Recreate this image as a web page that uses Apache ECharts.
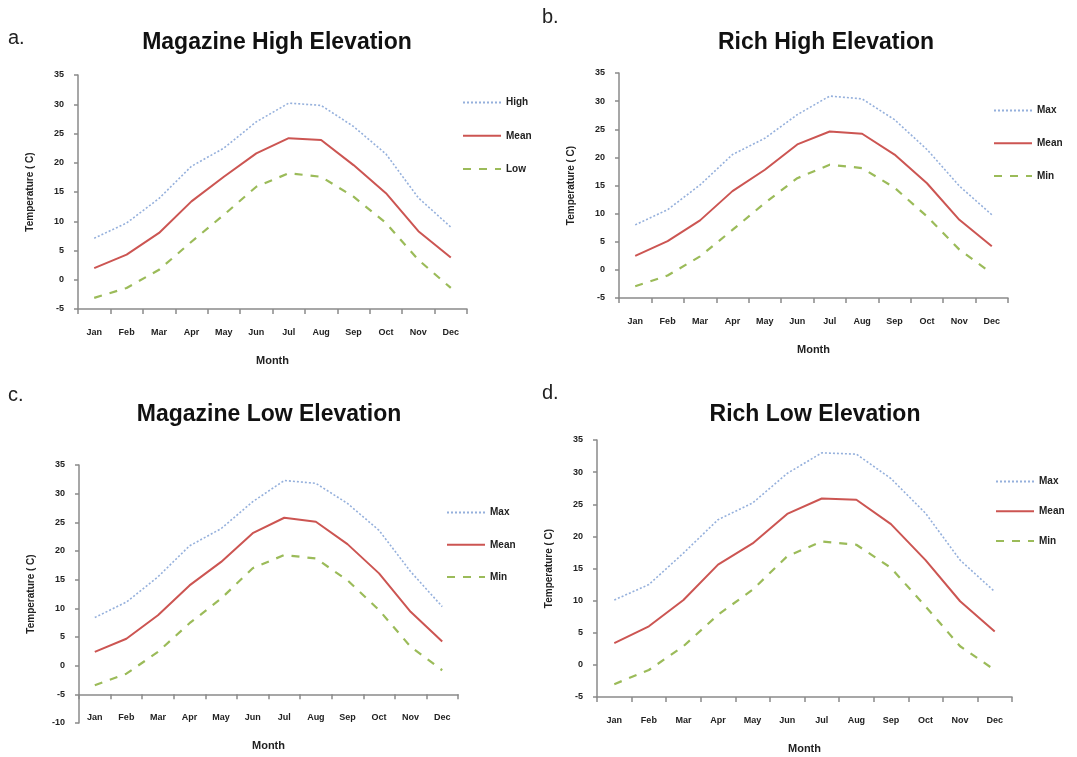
<!DOCTYPE html>
<html>
<head>
<meta charset="utf-8">
<script src="https://cdn.jsdelivr.net/npm/echarts@6/dist/echarts.min.js"></script>
<style>html,body{margin:0;padding:0;background:#fff;}#chart{width:1077px;height:757px;}</style>
</head>
<body>
<div id="chart"></div>
<script>
const months = ['Jan','Feb','Mar','Apr','May','Jun','Jul','Aug','Sep','Oct','Nov','Dec'];

// a. Magazine High Elevation
const magHighHigh = [7.1, 9.7, 13.9, 19.4, 22.5, 27.0, 30.2, 29.8, 26.2, 21.5, 14.0, 9.0];
const magHighMean = [2.0, 4.3, 8.0, 13.4, 17.6, 21.6, 24.2, 23.9, 19.6, 14.8, 8.3, 3.8];
const magHighLow  = [-3.1, -1.4, 1.7, 6.5, 11.1, 15.9, 18.2, 17.6, 14.2, 9.7, 3.4, -1.4];

// b. Rich High Elevation
const richHighMax  = [8.0, 10.7, 15.1, 20.5, 23.4, 27.6, 30.9, 30.4, 26.7, 21.4, 14.9, 9.8];
const richHighMean = [2.5, 5.1, 8.8, 14.0, 17.8, 22.3, 24.6, 24.2, 20.5, 15.4, 8.9, 4.2];
const richHighMin  = [-2.9, -1.0, 2.4, 7.1, 11.9, 16.3, 18.7, 18.1, 14.6, 9.5, 3.6, -0.6];

// c. Magazine Low Elevation
const magLowMax  = [8.4, 11.1, 15.5, 20.9, 23.9, 28.6, 32.3, 31.8, 28.3, 23.6, 16.4, 10.3];
const magLowMean = [2.4, 4.7, 8.8, 14.0, 18.1, 23.1, 25.8, 25.1, 21.2, 16.1, 9.4, 4.2];
const magLowMin  = [-3.4, -1.4, 2.4, 7.4, 11.7, 17.0, 19.3, 18.7, 14.9, 9.7, 3.3, -0.8];

// d. Rich Low Elevation
const richLowMax  = [10.1, 12.5, 17.4, 22.6, 25.2, 29.8, 33.0, 32.8, 29.0, 23.6, 16.3, 11.4];
const richLowMean = [3.4, 6.0, 10.1, 15.6, 18.9, 23.5, 25.9, 25.7, 21.9, 16.3, 9.9, 5.2];
const richLowMin  = [-3.0, -0.8, 2.9, 7.8, 11.7, 16.9, 19.2, 18.7, 15.1, 9.1, 2.9, -0.8];

const titles = ['Magazine High Elevation', 'Rich High Elevation', 'Magazine Low Elevation', 'Rich Low Elevation'];
const panelLetters = ['a.', 'b.', 'c.', 'd.'];
const legendNamesA = ['High', 'Mean', 'Low'];
const legendNames = ['Max', 'Mean', 'Min'];
const yTitle = 'Temperature ( C)';
const xTitle = 'Month';

const COL_MAX = '#95b0dc';
const COL_MEAN = '#cc5552';
const COL_MIN = '#9bbb59';
const AXIS_COL = '#8a8a8a';
const FONT = 'Liberation Sans, Arial, sans-serif';

const chart = echarts.init(document.getElementById('chart'), null, {renderer: 'canvas'});

// panel geometry: plot areas (px)
const panels = [
  {left: 78, top: 75, width: 389, height: 234, min: -5, axisMin: -5},
  {left: 619, top: 73, width: 389, height: 225, min: -5, axisMin: -5},
  {left: 79, top: 465, width: 379, height: 258, min: -10, axisMin: -5},
  {left: 597, top: 440, width: 415, height: 257, min: -5, axisMin: -5}
];
const data = [
  [magHighHigh, magHighMean, magHighLow],
  [richHighMax, richHighMean, richHighMin],
  [magLowMax, magLowMean, magLowMin],
  [richLowMax, richLowMean, richLowMin]
];
const names = [legendNamesA, legendNames, legendNames, legendNames];

const grids = [], xAxes = [], yAxes = [], series = [], legends = [];
const labelStyle = {color: '#222', fontSize: 9, fontWeight: 'bold', fontFamily: FONT};
const styles = [
  {color: COL_MAX, width: 1.6, type: [2, 2]},
  {color: COL_MEAN, width: 2},
  {color: COL_MIN, width: 2.2, type: [8, 8]}
];

panels.forEach((p, i) => {
  grids.push({left: p.left, top: p.top, width: p.width, height: p.height, containLabel: false});
  const overlay = p.min !== p.axisMin;
  xAxes.push({
    type: 'category', gridIndex: grids.length - 1, data: months, boundaryGap: true,
    show: !overlay,
    axisLine: {lineStyle: {color: AXIS_COL, width: 1.5}, onZero: false},
    axisTick: {show: true, length: 5, lineStyle: {color: AXIS_COL, width: 1.5}},
    axisLabel: Object.assign({interval: 0, margin: 19}, labelStyle),
    name: xTitle, nameLocation: 'middle', nameGap: 46,
    nameTextStyle: {color: '#222', fontSize: 11, fontWeight: 'bold', fontFamily: FONT}
  });
  yAxes.push({
    type: 'value', gridIndex: grids.length - 1, min: p.min, max: 35, interval: 5,
    splitLine: {show: false},
    axisLine: {show: true, lineStyle: {color: AXIS_COL, width: 1.5}},
    axisTick: {show: true, length: 4, lineStyle: {color: AXIS_COL, width: 1.5}},
    axisLabel: Object.assign({margin: 14}, labelStyle),
    name: yTitle, nameLocation: 'middle', nameGap: 43,
    nameTextStyle: {color: '#222', fontSize: 10, fontWeight: 'bold', fontFamily: FONT}
  });
  let gi = grids.length - 1;
  if (overlay) {
    const h = p.height * (35 - p.axisMin) / (35 - p.min);
    grids.push({left: p.left, top: p.top, width: p.width, height: h});
    xAxes.push({
      type: 'category', gridIndex: grids.length - 1, data: months, boundaryGap: true,
      axisLine: {lineStyle: {color: AXIS_COL, width: 1.5}, onZero: false},
      axisTick: {show: true, length: 5, lineStyle: {color: AXIS_COL, width: 1.5}},
      axisLabel: Object.assign({interval: 0, margin: 19}, labelStyle),
      name: xTitle, nameLocation: 'middle', nameGap: 46,
      nameTextStyle: {color: '#222', fontSize: 11, fontWeight: 'bold', fontFamily: FONT}
    });
    yAxes.push({type: 'value', gridIndex: grids.length - 1, min: p.axisMin, max: 35, show: false, splitLine: {show: false}});
    gi = grids.length - 1;
  }
  data[i].forEach((arr, k) => {
    series.push({
      type: 'line', name: names[i][k], xAxisIndex: gi, yAxisIndex: gi,
      data: arr, symbol: 'none', smooth: false, silent: true,
      lineStyle: styles[k], itemStyle: {color: styles[k].color},
      animation: false
    });
  });
});

const legendPos = [
  {left: 462, top: 97, gap: 22},
  {left: 993, top: 105, gap: 21.5},
  {left: 446, top: 507, gap: 21},
  {left: 995, top: 476, gap: 18.5}
];
legendPos.forEach((lp, i) => {
  legends.push({
    orient: 'vertical', left: lp.left, top: lp.top, itemGap: lp.gap,
    itemWidth: 38, itemHeight: 14, padding: 0,
    data: names[i],
    selectedMode: false,
    itemStyle: {opacity: 0, borderWidth: 0},
    textStyle: {color: '#222', fontSize: 10, fontWeight: 'bold', fontFamily: FONT}
  });
});

const titlePos = [
  {x: 277, y: 43}, {x: 826, y: 43}, {x: 269, y: 415}, {x: 815, y: 415}
];
const letterPos = [
  {x: 8, y: 38}, {x: 542, y: 17}, {x: 8, y: 395}, {x: 542, y: 393}
];
const graphics = [];
titles.forEach((t, i) => {
  graphics.push({type: 'text', x: titlePos[i].x, y: titlePos[i].y, silent: true,
    style: {text: t, fill: '#111', font: 'bold 23px ' + FONT, align: 'center', verticalAlign: 'middle'}});
  graphics.push({type: 'text', x: letterPos[i].x, y: letterPos[i].y, silent: true,
    style: {text: panelLetters[i], fill: '#222', font: '20px ' + FONT, align: 'left', verticalAlign: 'middle'}});
});

chart.setOption({
  animation: false,
  backgroundColor: '#fff',
  grid: grids, xAxis: xAxes, yAxis: yAxes, series: series, legend: legends,
  graphic: graphics
});
</script>
</body>
</html>
